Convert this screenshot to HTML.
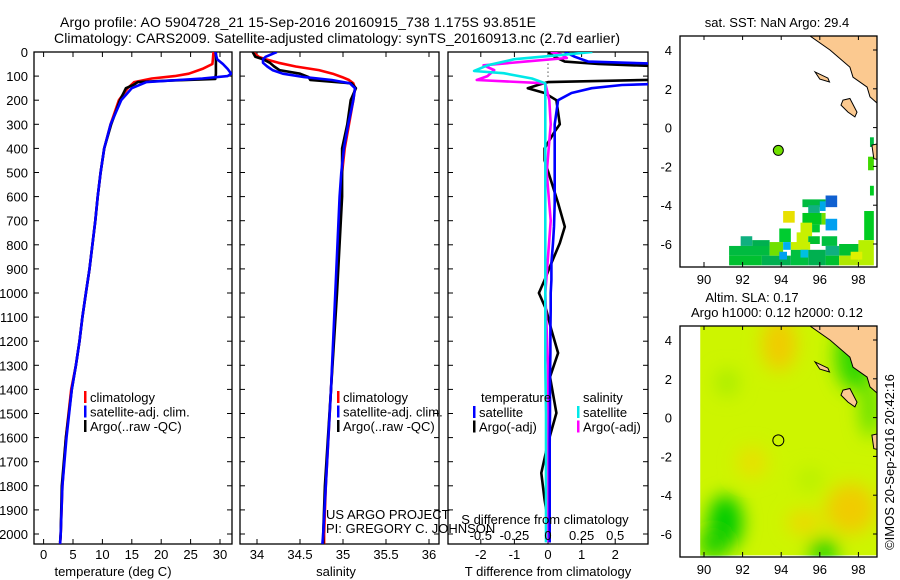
<!DOCTYPE html>
<html><head><meta charset="utf-8"><style>
html,body{margin:0;padding:0;background:#fff}
svg{display:block;font-family:"Liberation Sans",sans-serif}
text{font-size:13px;fill:#000}
</style></head><body>
<svg id="c" width="900" height="580" viewBox="0 0 900 580" xmlns="http://www.w3.org/2000/svg">
<defs>
<clipPath id="cp1"><rect x="34" y="52" width="198" height="492"/></clipPath>
<clipPath id="cp2"><rect x="240" y="52" width="199" height="492"/></clipPath>
<clipPath id="cp3"><rect x="448" y="52" width="200" height="492"/></clipPath>
<clipPath id="cm1"><rect x="680" y="36" width="197" height="231"/></clipPath>
<clipPath id="cm2"><rect x="680" y="326" width="197" height="231"/></clipPath>
<filter id="blur"><feGaussianBlur stdDeviation="9"/></filter>
</defs>
<text x="60" y="27" style="font-size:14px" textLength="476">Argo profile: AO 5904728_21 15-Sep-2016 20160915_738 1.175S 93.851E</text>
<text x="54" y="43" style="font-size:14px" textLength="566">Climatology: CARS2009. Satellite-adjusted climatology: synTS_20160913.nc (2.7d earlier)</text>
<g id="g1"></g>
<g id="g2"></g>
<g id="g3"></g>
<g id="m1"></g>
<g id="m2"></g>
<text x="326" y="519">US ARGO PROJECT</text>
<text x="326" y="533">PI: GREGORY C. JOHNSON</text>
<text transform="translate(894,462) rotate(-90)" text-anchor="middle">©IMOS 20-Sep-2016 20:42:16</text>
</svg>
<script>
// ---- profile data ----
const depthsT = [0,30,50,70,90,100,110,125,150,200,300,400,500,600,700,800,900,1000,1100,1200,1300,1400,1600,1800,2000,2041];
const tempClim = [28.9,28.8,28.7,27.0,24.7,22.3,18.4,15.4,14.3,12.8,11.4,10.3,9.7,9.2,8.8,8.3,7.8,7.2,6.6,6.1,5.5,4.7,3.8,3.2,2.9,2.8];
const tempSat  = [29.2,29.5,30.5,31.3,31.9,31.3,27.0,17.5,15.0,13.2,11.4,10.3,9.7,9.2,8.8,8.3,7.8,7.2,6.6,6.1,5.5,4.8,3.9,3.2,2.9,2.8];
const depthsA = [0,50,90,112,118,125,135,150,200,300,400,500,600,700,800,900,1000,1100,1200,1300,1400,1600,1800,2000,2035];
const tempArgo = [29.3,29.3,29.3,29.2,22.0,16.0,15.4,14.0,13.0,11.5,10.3,9.7,9.2,8.8,8.3,7.8,7.2,6.6,6.1,5.5,4.8,3.8,3.1,2.9,2.8];
const depthsS = [0,20,30,45,60,75,90,104,116,130,150,200,300,400,500,600,1000,1400,1800,2000,2041];
const salClim = [33.95,34.02,34.1,34.25,34.45,34.72,34.88,34.99,35.07,35.12,35.14,35.12,35.07,35.02,34.99,34.97,34.92,34.86,34.8,34.78,34.78];
const salSat  = [34.23,34.1,34.07,34.07,34.12,34.18,34.3,34.55,34.87,35.08,35.14,35.12,35.06,35.01,34.98,34.96,34.91,34.86,34.8,34.77,34.76];
const salArgo = [33.95,33.98,34.07,34.15,34.2,34.26,34.5,34.6,34.62,35.1,35.15,35.09,35.05,34.99,34.99,34.99,34.93,34.86,34.79,34.77,34.77];
const depthsD = [0,20,40,50,60,75,90,110,125,137,150,170,200,250,300,330,400,450,627,725,793,876,946,1000,1070,1153,1249,1348,1498,1622,1747,1859,1983,2035];
const dTSat  = [0.5,0.8,1.2,3.5,5,5,5,5,5,2.2,1.3,0.7,0.3,0.25,0.2,0.2,0.2,0.2,0.2,0.18,0.15,0.1,0.1,0.08,0.08,0.07,0.07,0.06,0.06,0.05,0.05,0.05,0.05,0.05];
const dTArgo = [0,0.2,0.5,1.5,3.5,5,5,5,0,-0.3,-0.6,-0.1,0.25,0.3,0.35,0.2,-0.1,-0.1,0.3,0.5,0.35,0.1,-0.1,-0.27,-0.05,0.1,0.3,0.06,0.25,0,-0.2,-0.1,0.05,0.05];
const depthsDS = [0,12,30,55,79,88,110,130,200,300,500,700,1000,1300,1500,2035];
const dSSat  = [0.33,0.1,-0.25,-0.45,-0.55,-0.33,-0.12,-0.02,-0.02,-0.02,-0.02,-0.02,-0.02,-0.02,-0.015,-0.015];
const depthsDM = [0,10,25,40,55,75,100,116,130,200,300,500,700,1000,1300,1500,2035];
const dSArgo = [0.02,0.1,0.14,-0.17,-0.48,-0.4,-0.45,-0.53,-0.02,0.01,0.02,-0.01,0.02,-0.02,0,0,0];
const depthTicks = [0,100,200,300,400,500,600,700,800,900,1000,1100,1200,1300,1400,1500,1600,1700,1800,1900,2000];
const tTicks = [0,5,10,15,20,25,30];
const sTicks = [34,34.5,35,35.5,36];
const dTTicks = [-2,-1,0,1,2];
const dSTicks = [-0.5,-0.25,0,0.25,0.5];
const dSTickLabels = ['-0.5','-0.25','0','0.25','0.5'];
// ---- map data ----
const mapLonTicks = [90,92,94,96,98];
const mapLatTicks = [4,2,0,-2,-4,-6];
const argoLon = 93.851, argoLat = -1.175;
const sstCells = [
[96.3,-3.5,96.9,-4.1,'#1060d0'],[95.1,-3.7,96.3,-4.1,'#00bb40'],[95.4,-4.0,96.0,-4.4,'#10b080'],[96.0,-3.8,96.3,-4.3,'#00a8e8'],
[94.1,-4.3,94.7,-4.9,'#e8e000'],[95.1,-4.4,96.1,-5.0,'#00c820'],[96.1,-4.4,96.3,-5.0,'#70e000'],[96.3,-4.7,96.9,-5.3,'#00a0f0'],
[95.0,-4.9,95.6,-5.6,'#c8f000'],[95.6,-5.0,96.0,-5.4,'#00c830'],[93.9,-5.2,94.5,-5.9,'#00cc30'],[94.8,-5.4,95.4,-6.0,'#c8f000'],
[95.4,-5.6,96.0,-6.0,'#00c030'],[96.1,-5.6,96.9,-6.1,'#00c040'],[98.3,-4.3,98.8,-5.8,'#00cc20'],[98.6,-3.0,98.8,-3.5,'#00cc20'],
[98.5,-1.5,98.8,-2.2,'#40d800'],[98.6,-0.5,98.8,-1.0,'#00bb40'],
[91.9,-5.6,92.5,-6.1,'#10b080'],[92.5,-5.8,93.4,-6.3,'#00b050'],[91.3,-6.1,93.4,-6.6,'#00bb40'],[91.3,-6.6,93.0,-7.1,'#00c030'],
[93.0,-6.6,94.5,-7.1,'#00b050'],[93.4,-5.9,94.1,-6.6,'#70e000'],[94.1,-5.9,94.5,-6.3,'#00b0f0'],[94.5,-5.9,95.5,-6.3,'#c8f000'],
[94.5,-6.3,95.4,-7.1,'#00c040'],[93.9,-6.4,94.3,-6.8,'#00a0f0'],[95.4,-6.3,96.3,-7.1,'#00b050'],[96.3,-6.1,97.0,-6.6,'#10b080'],
[96.3,-6.6,97.0,-7.1,'#00c030'],[97.0,-6.0,98.0,-6.6,'#00c030'],[97.0,-6.6,98.0,-7.1,'#b0e800'],[98.0,-5.8,98.8,-7.1,'#b8f000'],
[97.6,-6.4,98.2,-6.8,'#e0f000'],[95.0,-6.3,95.4,-6.7,'#00c0e0']];
const slaBlobs = [
[93.9,3.8,0.9,1.4,'#f0cc00'],[92.5,-2.3,0.8,0.8,'#e8e000'],[97.6,-4.7,1.3,1.3,'#f0cc00'],[95.2,-5.4,0.9,0.6,'#eed800'],
[91.1,-5.4,0.9,1.4,'#00cc00'],[90.5,-6.5,0.8,0.8,'#20d000'],[96.2,-6.8,0.8,0.5,'#00cc00'],[97.8,3.2,1.0,1.8,'#30d800'],
[98.6,0.5,0.5,1.5,'#60e000'],[95.5,-3.2,0.7,0.6,'#b8f000'],[91.2,1.8,0.6,0.7,'#a8ec00']];
const coast = [[95.49,4.9],[95.49,4.72],[96.53,4.0],[97.56,3.12],[97.72,2.6],[98.45,2.09],[98.6,1.58],[98.96,1.27],[99.3,1.0],[99.3,4.9]];
const island1 = [[95.75,2.87],[96.42,2.55],[96.5,2.35],[96.0,2.5]];
const island2 = [[97.2,1.42],[97.56,1.5],[97.93,0.8],[97.82,0.55],[97.46,0.8],[97.1,1.16]];
const land3 = [[98.7,-0.9],[99.2,-0.8],[99.2,-1.7],[98.8,-1.6]];

const NS='http://www.w3.org/2000/svg';
function mk(tag, attrs, parent){const e=document.createElementNS(NS,tag);for(const k in attrs)e.setAttribute(k,attrs[k]);parent.appendChild(e);return e;}
const yD = d => 52 + d*0.241;
const xT = t => 43.6 + t*5.88;
const xS = s => 257 + (s-34)*86;
const xDT = v => 548 + v*33.6;
const xDS = v => 548 + v*134.4;

function frame(g, x0, x1, name){
  const r = mk('rect',{x:x0,y:52,width:x1-x0,height:492,fill:'none',stroke:'#000','stroke-width':1.3},g);
  
  
  depthTicks.forEach(d=>{
    const t=mk('line',{x1:x0,x2:x0+5,y1:yD(d),y2:yD(d),stroke:'#000'},g);
    
    
    const t2=mk('line',{x1:x1,x2:x1-5,y1:yD(d),y2:yD(d),stroke:'#000'},g);
    
    
  });
}
function xticks(g, ticks, fx, labels, ly){
  ticks.forEach((v,i)=>{
    const a=mk('line',{x1:fx(v),x2:fx(v),y1:544,y2:539,stroke:'#000'},g);
    
    
    const b=mk('line',{x1:fx(v),x2:fx(v),y1:52,y2:57,stroke:'#000'},g);
    
    
    const t=mk('text',{x:fx(v),y:ly,'text-anchor':'middle'},g);
    t.textContent = labels ? labels[i] : String(v);
    
    
  });
}
function line(g, ds, vs, fx, color, clip, name, w){
  const pts = ds.map((d,i)=>fx(vs[i]).toFixed(1)+','+yD(d).toFixed(1)).join(' ');
  const p=mk('polyline',{points:pts,fill:'none',stroke:color,'stroke-width':w||2.6,'clip-path':'url(#'+clip+')','stroke-linejoin':'round'},g);
  
  
}
function legend(g, x, y, items){
  items.forEach((it,i)=>{
    const m=mk('rect',{x:x,y:y+i*14.5-6,width:2.5,height:12,fill:it[1]},g);
    
    
    const t=mk('text',{x:x+6,y:y+i*14.5+5},g);
    t.textContent=it[0];
    
    
  });
}
const g1=document.getElementById('g1'), g2=document.getElementById('g2'), g3=document.getElementById('g3');
frame(g1,34,232,'temperature-panel');
depthTicks.forEach(d=>{const t=mk('text',{x:28,y:yD(d)+5,'text-anchor':'end'},g1);t.textContent=d;
  
  });
xticks(g1,tTicks,xT,null,559);
line(g1,depthsT,tempClim,xT,'#ff0000','cp1','temp-climatology-line');
line(g1,depthsA,tempArgo,xT,'#000000','cp1','temp-argo-line');
line(g1,depthsT,tempSat,xT,'#0000ff','cp1','temp-satellite-line');
legend(g1,84,397,[['climatology','#ff0000'],['satellite-adj. clim.','#0000ff'],['Argo(..raw -QC)','#000']]);
let tt=mk('text',{x:113,y:576,'text-anchor':'middle'},g1);tt.textContent='temperature (deg C)';



frame(g2,240,439,'salinity-panel');
xticks(g2,sTicks,xS,null,559);
line(g2,depthsS,salClim,xS,'#ff0000','cp2','sal-climatology-line');
line(g2,depthsS,salArgo,xS,'#000000','cp2','sal-argo-line');
line(g2,depthsS,salSat,xS,'#0000ff','cp2','sal-satellite-line');
legend(g2,337,397,[['climatology','#ff0000'],['satellite-adj. clim.','#0000ff'],['Argo(..raw -QC)','#000']]);
tt=mk('text',{x:336,y:576,'text-anchor':'middle'},g2);tt.textContent='salinity';



frame(g3,448,648,'difference-panel');
xticks(g3,dTTicks,xDT,null,559);
const zl=mk('line',{x1:xDT(0),x2:xDT(0),y1:yD(15),y2:yD(110),stroke:'#000','stroke-dasharray':'1,3'},g3);


line(g3,depthsD,dTArgo,xDT,'#000000','cp3','t-diff-argo-line');
line(g3,depthsDM,dSArgo,xDS,'#ff00ff','cp3','s-diff-argo-line');
line(g3,depthsD,dTSat,xDT,'#0000ff','cp3','t-diff-satellite-line');
line(g3,depthsDS,dSSat,xDS,'#00e8e8','cp3','s-diff-satellite-line');
dSTicks.forEach((v,i)=>{const t=mk('text',{x:xDS(v),y:540,'text-anchor':'middle'},g3);t.textContent=dSTickLabels[i];
  
  });
tt=mk('text',{x:545,y:524,'text-anchor':'middle'},g3);tt.textContent='S difference from climatology';


tt=mk('text',{x:548,y:576,'text-anchor':'middle'},g3);tt.textContent='T difference from climatology';


tt=mk('text',{x:481,y:402},g3);tt.textContent='temperature';


tt=mk('text',{x:583,y:402},g3);tt.textContent='salinity';


legend(g3,473,412,[['satellite','#0000ff'],['Argo(-adj)','#000']]);
legend(g3,577,412,[['satellite','#00e8e8'],['Argo(-adj)','#ff00ff']]);

// ---- maps ----
const mx = lon => 704 + (lon-90)*19.3;
function drawMap(g, top, latY0, clip, field){
  const my = lat => latY0 + (4-lat)*19.4;
  const inner = mk('g',{'clip-path':'url(#'+clip+')'},g);
  field(inner, my);
  const poly=(pts,name,fill)=>{const p=mk('polygon',{points:pts.map(q=>mx(q[0]).toFixed(1)+','+my(q[1]).toFixed(1)).join(' '),fill:fill,stroke:'#000','stroke-width':1},inner);
    
    };
  poly(coast,'sumatra-land','#fbc990');poly(island1,'simeulue-island','#fbc990');poly(island2,'nias-island','#fbc990');poly(land3,'land-fragment','#fbc990');
  const fr=mk('rect',{x:680,y:top,width:197,height:231,fill:'none',stroke:'#000','stroke-width':1.3},g);
  
  
  mapLonTicks.forEach(l=>{
    const a=mk('line',{x1:mx(l),x2:mx(l),y1:top+231,y2:top+226,stroke:'#000'},g);
    
    
    const b=mk('line',{x1:mx(l),x2:mx(l),y1:top,y2:top+4,stroke:'#000'},g);
    
    
    const t=mk('text',{x:mx(l),y:top+248,'text-anchor':'middle'},g);t.textContent=l;
    
    
  });
  mapLatTicks.forEach(l=>{
    const a=mk('line',{x1:877,x2:873,y1:my(l),y2:my(l),stroke:'#000'},g);
    
    
    const t=mk('text',{x:672,y:my(l)+5,'text-anchor':'end'},g);t.textContent=l;
    
    
  });
  return my;
}
const m1=document.getElementById('m1'), m2=document.getElementById('m2');
let my1 = drawMap(m1,36,50,'cm1',(inner,my)=>{
  sstCells.forEach(c=>{const r=mk('rect',{x:mx(c[0]),y:my(c[1]),width:mx(c[2])-mx(c[0]),height:my(c[3])-my(c[1]),fill:c[4]},inner);
    
    });
});
let c1=mk('circle',{cx:mx(argoLon),cy:my1(argoLat),r:5,fill:'#70e000',stroke:'#000'},m1);


let my2 = drawMap(m2,326,340,'cm2',(inner,my)=>{
  const bg=mk('rect',{x:mx(89.8),y:my(4.8),width:mx(99.2)-mx(89.8),height:my(-7.1)-my(4.8),fill:'#cdf500'},inner);
  
  
  const bl=mk('g',{filter:'url(#blur)'},inner);
  slaBlobs.forEach(b=>{const e=mk('ellipse',{cx:mx(b[0]),cy:my(b[1]),rx:b[2]*19.3,ry:b[3]*19.4,fill:b[4]},bl);
    
    });
  const w=mk('rect',{x:679,y:my(4.8),width:mx(89.8)-679,height:240,fill:'#fff'},inner);
  
  
});
let c2=mk('circle',{cx:mx(argoLon),cy:my2(argoLat),r:5.5,fill:'none',stroke:'#000'},m2);


[['sat. SST: NaN Argo: 29.4',777,27,'sst-map-title'],['Altim. SLA: 0.17',752,302,'sla-map-title'],['Argo h1000: 0.12 h2000: 0.12',777,317,'sla-map-subtitle']].forEach(a=>{
  const t=mk('text',{x:a[1],y:a[2],'text-anchor':'middle'},document.getElementById('c'));t.textContent=a[0];
  
  
});
</script>
</body></html>
